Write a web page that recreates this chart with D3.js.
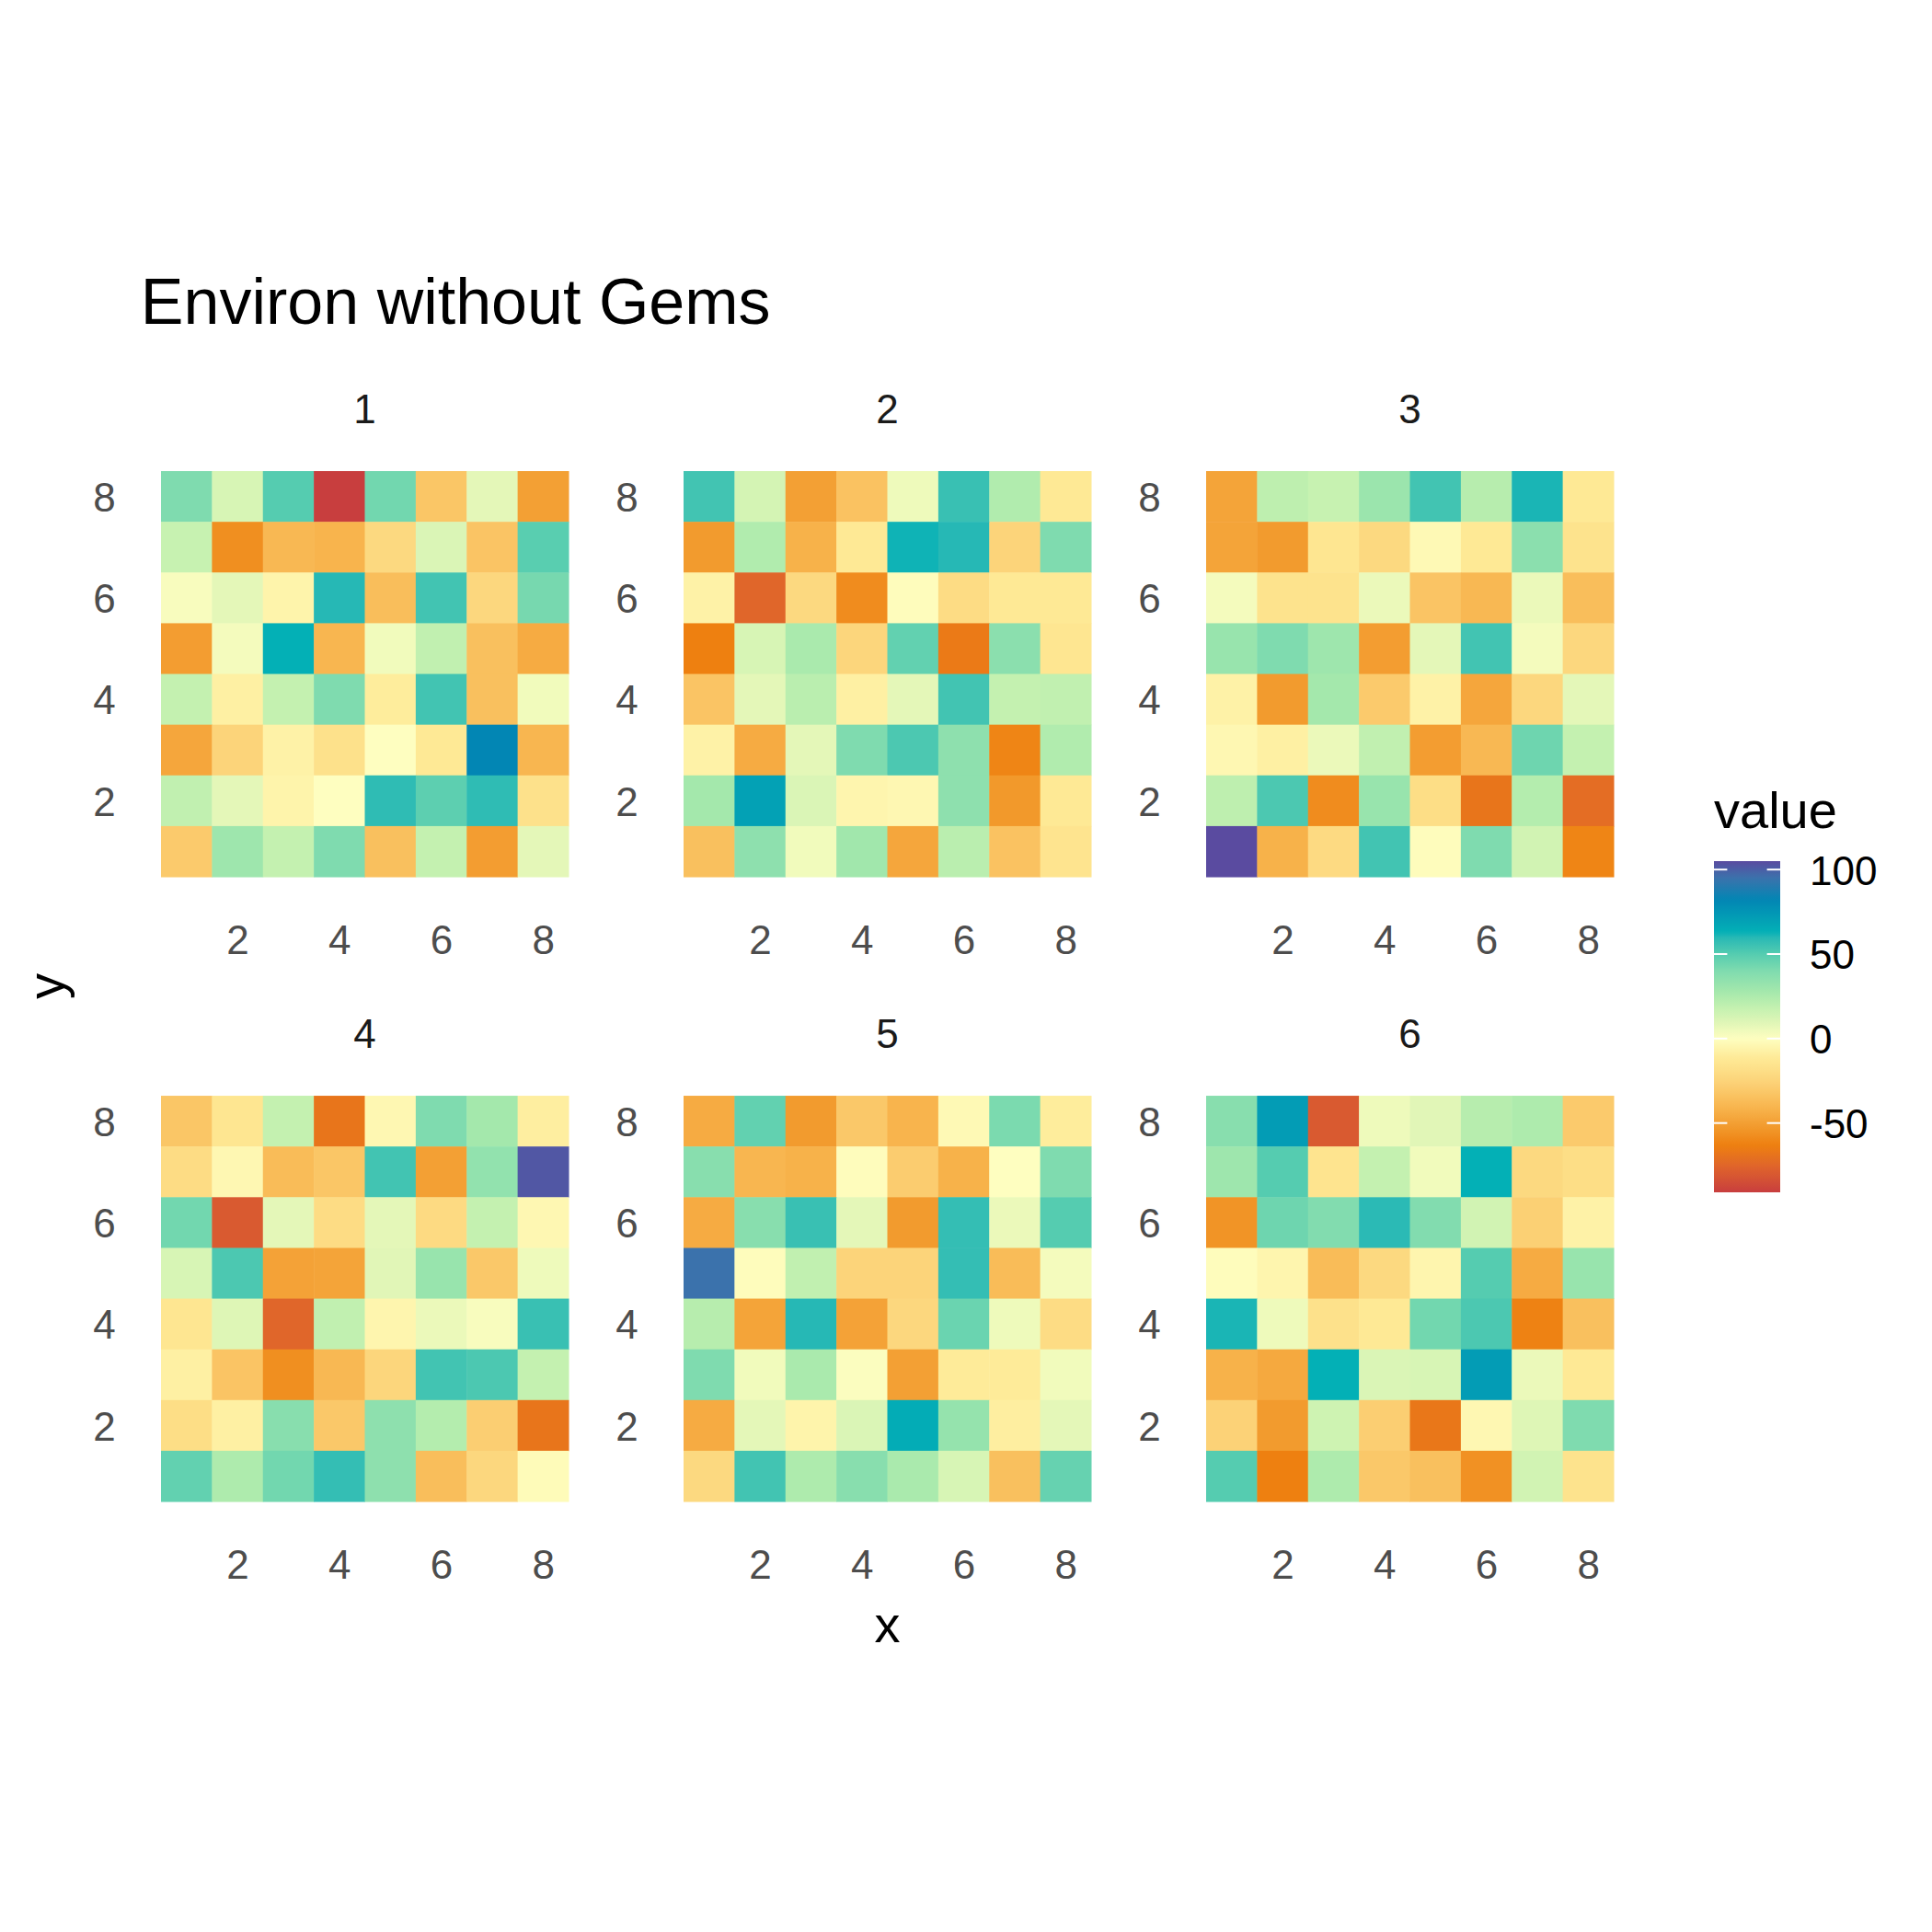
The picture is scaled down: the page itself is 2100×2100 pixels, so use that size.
<!DOCTYPE html>
<html>
<head>
<meta charset="utf-8">
<script src="https://cdnjs.cloudflare.com/ajax/libs/d3/7.8.5/d3.min.js"></script>
<style>
  body { margin: 0; background: #fff; }
  svg { display: block; font-family: "Liberation Sans", Arial, Helvetica, sans-serif; }
</style>
</head>
<body>
<svg id="chart" width="2100" height="2100"></svg>
<script>
const panelNames = ["1", "2", "3", "4", "5", "6"];

// each panel: rows from y = 8 (top) down to y = 1, columns x = 1..8
const panel1 = [
  [40, 12, 50, -91, 43, -32, 8, -50],
  [17, -57, -39, -41, -22, 11, -33, 49],
  [2, 8, -6, 60, -36, 54, -23, 42],
  [-51, 3, 63, -40, 4, 19, -35, -45],
  [18, -8, 18, 40, -10, 54, -35, 4],
  [-47, -25, -7, -17, 0, -12, 82, -40],
  [19, 8, -6, 0, 58, 48, 58, -17],
  [-30, 30, 18, 40, -35, 18, -51, 8]
];
const panel2 = [
  [54, 13, -50, -34, 5, 56, 24, -12],
  [-52, 24, -42, -12, 62, 60, -25, 40],
  [-7, -75, -22, -58, -1, -20, -12, -12],
  [-63, 12, 26, -24, 47, -66, 36, -14],
  [-33, 8, 21, -8, 8, 54, 18, 19],
  [-7, -45, 8, 40, 52, 35, -61, 24],
  [28, 70, 11, -5, -4, 35, -53, -12],
  [-35, 35, 4, 29, -47, 21, -34, -15]
];
const panel3 = [
  [-48, 20, 17, 31, 54, 22, 61, -12],
  [-48, -52, -14, -22, -3, -12, 36, -16],
  [3, -16, -16, 6, -33, -39, 6, -36],
  [32, 40, 30, -51, 8, 54, 3, -23],
  [-7, -52, 28, -30, -7, -47, -23, 8],
  [-4, -8, 6, 19, -51, -39, 44, 18],
  [20, 52, -58, 32, -19, -68, 23, -72],
  [105, -42, -21, 54, -1, 40, 14, -61]
];
const panel4 = [
  [-32, -14, 18, -68, -4, 40, 28, -9],
  [-20, -4, -37, -32, 54, -50, 34, 102],
  [43, -80, 8, -20, 8, -21, 18, -4],
  [12, 52, -49, -48, 9, 32, -31, 5],
  [-14, 10, -75, 19, -5, 6, 2, 56],
  [-8, -33, -57, -39, -24, 54, 52, 18],
  [-19, -8, 37, -31, 35, 23, -28, -68],
  [47, 25, 43, 57, 35, -36, -23, -2]
];
const panel5 = [
  [-45, 47, -52, -31, -41, -3, 41, -10],
  [37, -40, -42, -1, -29, -42, 0, 40],
  [-45, 37, 56, 8, -52, 57, 6, 50],
  [95, -1, 19, -25, -25, 57, -37, 3],
  [22, -48, 60, -49, -23, 45, 5, -20],
  [40, 4, 26, 1, -50, -11, -11, 4],
  [-45, 8, -6, 11, 65, 33, -9, 8],
  [-22, 54, 25, 37, 26, 12, -35, 46]
];
const panel6 = [
  [37, 72, -80, 5, 9, 22, 25, -30],
  [30, 50, -15, 18, 4, 63, -22, -19],
  [-55, 44, 39, 59, 39, 14, -27, -7],
  [-1, -5, -37, -22, -5, 50, -45, 32],
  [61, 5, -17, -12, 43, 52, -62, -35],
  [-42, -46, 63, 11, 12, 72, 6, -12],
  [-26, -52, 15, -28, -67, -4, 10, 40],
  [50, -63, 25, -31, -35, -56, 14, -16]
];
const panels = [panel1, panel2, panel3, panel4, panel5, panel6];

const xTicks = [2, 4, 6, 8];
const yTicks = [2, 4, 6, 8];
const legendTicks = [100, 50, 0, -50];
const valueRange = [-91, 105];

// colour ramp
const rampValues = [-91, -75, -63, -52, -40, -25, -12, 0, 8, 18, 28, 40, 50, 60, 63, 82, 95, 105];
const rampColours = ["#c83e3e", "#e0662a", "#ee8010", "#f29b2e", "#f8b650", "#fcd47a", "#fee995",
  "#fefec0", "#e4f7b8", "#c4f1b0", "#a4e8ac", "#7fdbaf", "#55ccb0", "#26b8b5", "#03b0b6",
  "#0286b4", "#3b72ac", "#5a4ba0"];

const svg = d3.select("#chart");
const fill = d3.scaleLinear().domain(rampValues).range(rampColours)
  .interpolate(d3.interpolateRgb).clamp(true);

const panelW = 487.3, panelH = 485.1;
const colLeft = [152.85, 720.85, 1288.85];
const rowTop = [490, 1169];

panels.forEach((rows, i) => {
  const left = colLeft[i % 3], top = rowTop[Math.floor(i / 3)];
  const x = d3.scaleLinear().domain([0.1, 8.9]).range([left, left + panelW]);
  const y = d3.scaleLinear().domain([0.1, 8.9]).range([top + panelH, top]);

  const cells = [];
  rows.forEach((row, r) => row.forEach((v, c) => cells.push({ x: c + 1, y: 8 - r, value: v })));

  const g = svg.append("g");
  g.selectAll("rect").data(cells).join("rect")
    .attr("x", d => x(d.x - 0.5))
    .attr("y", d => y(d.y + 0.5))
    .attr("width", d => x(d.x + 0.5) - x(d.x - 0.5) + 0.5)
    .attr("height", d => y(d.y - 0.5) - y(d.y + 0.5) + 0.5)
    .attr("fill", d => fill(d.value));

  // strip label
  svg.append("text")
    .attr("x", left + panelW / 2).attr("y", top - 30)
    .attr("text-anchor", "middle").attr("font-size", 44).attr("fill", "#1a1a1a")
    .text(panelNames[i]);

  svg.append("g")
    .attr("transform", `translate(0,${top + panelH})`)
    .call(d3.axisBottom(x).tickValues(xTicks).tickSize(0).tickPadding(31))
    .call(a => a.select(".domain").remove())
    .attr("font-size", 44).attr("font-family", null).attr("color", "#4d4d4d");

  svg.append("g")
    .attr("transform", `translate(${left},0)`)
    .call(d3.axisLeft(y).tickValues(yTicks).tickSize(0).tickPadding(27))
    .call(a => a.select(".domain").remove())
    .call(a => a.selectAll("text").attr("dy", "0.36em"))
    .attr("font-size", 44).attr("font-family", null).attr("color", "#4d4d4d");
});

// titles
svg.append("text").attr("x", 152.85).attr("y", 352)
  .attr("font-size", 70).attr("fill", "#000").text("Environ without Gems");
svg.append("text").attr("x", 964.5).attr("y", 1785)
  .attr("text-anchor", "middle").attr("font-size", 56).attr("fill", "#000").text("x");
svg.append("text").attr("transform", "translate(69,1072) rotate(-90)")
  .attr("text-anchor", "middle").attr("font-size", 56).attr("fill", "#000").text("y");

// legend
const barX = 1863, barW = 72;
const legendY = d3.scaleLinear().domain(valueRange).range([1296, 936]);

const grad = svg.append("defs").append("linearGradient")
  .attr("id", "ramp").attr("x1", 0).attr("y1", 1).attr("x2", 0).attr("y2", 0);
grad.selectAll("stop").data(d3.range(0, 1.0001, 0.01)).join("stop")
  .attr("offset", t => t)
  .attr("stop-color", t => fill(valueRange[0] + t * (valueRange[1] - valueRange[0])));

svg.append("rect")
  .attr("x", barX).attr("y", legendY(valueRange[1]))
  .attr("width", barW).attr("height", legendY(valueRange[0]) - legendY(valueRange[1]))
  .attr("fill", "url(#ramp)");

legendTicks.forEach(t => {
  [[barX, barX + 14.4], [barX + barW - 14.4, barX + barW]].forEach(([x1, x2]) => {
    svg.append("line")
      .attr("x1", x1).attr("x2", x2).attr("y1", legendY(t)).attr("y2", legendY(t))
      .attr("stroke", "#fff").attr("stroke-width", 2);
  });
});

svg.append("g")
  .attr("transform", `translate(${barX + barW},0)`)
  .call(d3.axisRight(legendY).tickValues(legendTicks).tickSize(0).tickPadding(32)
    .tickFormat(d => String(d)))
  .call(a => a.select(".domain").remove())
  .call(a => a.selectAll("text").attr("dy", "0.36em"))
  .attr("font-size", 44).attr("font-family", null).attr("color", "#000");

svg.append("text").attr("x", barX).attr("y", 900)
  .attr("font-size", 56).attr("fill", "#000").text("value");
</script>
</body>
</html>
